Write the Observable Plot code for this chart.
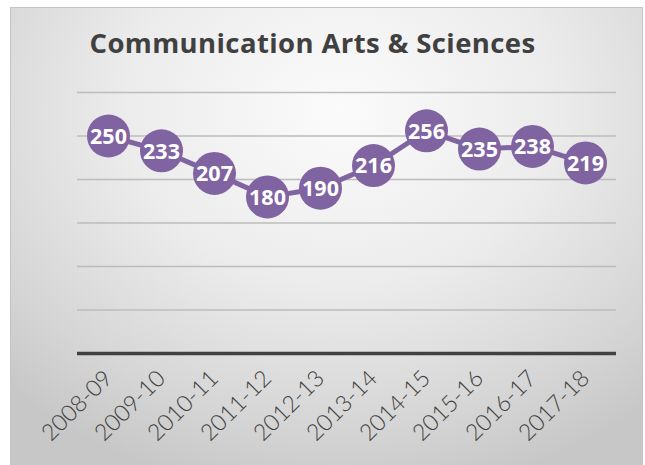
<!DOCTYPE html>
<html>
<head>
<meta charset="utf-8">
<script src="https://cdn.jsdelivr.net/npm/d3@7"></script>
<script src="https://cdn.jsdelivr.net/npm/@observablehq/plot@0.6"></script>
<style>
  html, body { margin: 0; padding: 0; background: #ffffff; }
  #frame {
    position: absolute; left: 10px; top: 7px; width: 631px; height: 460px;
    border: 1px solid #c4c4c4; border-bottom: none;
    background: radial-gradient(ellipse 75% 85% at 52% 22%, #fbfbfb 0%, #ececec 45%, #d6d6d6 80%, #c7c7c7 100%);
  }
  #wrap { position: absolute; left: 0; top: 0; width: 645px; height: 465px; }
  #title {
    height: 75px; width: 645px; box-sizing: border-box; padding-top: 25px;
    text-align: center; font-family: "Open Sans", sans-serif; font-weight: 700; font-size: 27.5px;
    color: #404040; line-height: 36px; padding-right: 20px; letter-spacing: 0.4px;
  }
  svg { display: block; background: transparent !important; }
</style>
</head>
<body>
<div id="frame"></div>
<div id="wrap">
  <div id="title">Communication Arts &amp; Sciences</div>
  <div id="chart"></div>
</div>
<script>
const years = ["2008-09","2009-10","2010-11","2011-12","2012-13","2013-14","2014-15","2015-16","2016-17","2017-18"];
const values = [250, 233, 207, 180, 190, 216, 256, 235, 238, 219];
const gridValues = [50, 100, 150, 200, 250, 300];

const data = years.map((year, i) => ({year, value: values[i]}));

const chart = Plot.plot({
  width: 645,
  height: 390,
  marginTop: 17,
  marginBottom: 112,
  marginLeft: 77,
  marginRight: 29,
  style: {background: "transparent"},
  x: {type: "point", domain: years, padding: 0.5, label: null},
  y: {domain: [0, 300], axis: null},
  marks: [
    Plot.ruleY(gridValues, {stroke: "#bcbcbc", strokeWidth: 1.6}),
    Plot.ruleY([0], {stroke: "#404040", strokeWidth: 3.5}),
    Plot.axisX({tickSize: 0, tickRotate: -45, tickPadding: 21, fontSize: 23,
      fontFamily: "Lato, sans-serif", fontWeight: 300, fill: "#404040", label: null,
      style: "letter-spacing: 0.6px"}),
    Plot.line(data, {x: "year", y: "value", stroke: "#8064a2", strokeWidth: 5}),
    Plot.dot(data, {x: "year", y: "value", r: 21.5, fill: "#8064a2", stroke: "none"}),
    Plot.text(data, {x: "year", y: "value", text: d => String(d.value), fill: "white",
      fontSize: 21.5, fontWeight: 700, fontFamily: "Open Sans, sans-serif", dy: 1,
      style: "letter-spacing: 0.8px"})
  ]
});
document.getElementById("chart").appendChild(chart);
</script>
</body>
</html>
